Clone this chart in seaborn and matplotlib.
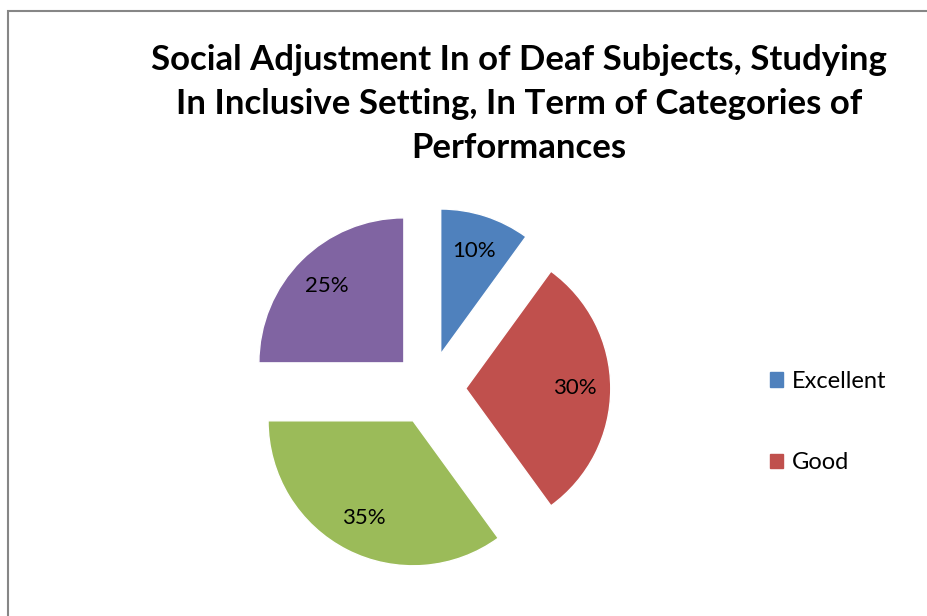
import matplotlib
matplotlib.use("Agg")
import matplotlib.pyplot as plt
import matplotlib.patches as mpatches
import seaborn as sns

categories = ["Excellent", "Good", "Average", "Poor"]
shares = [10, 30, 35, 25]
legend_shown = ["Excellent", "Good"]
colors = ["#4F81BD", "#C0504D", "#9BBB59", "#8064A2"]

sns.set_style("white")
plt.rcParams["font.family"] = ["Lato", "DejaVu Sans"]
plt.rcParams["text.color"] = "black"

fig = plt.figure(figsize=(9.28, 6.16), dpi=100)

# chart border (Excel-like frame, running past the right and bottom edges)
fig.patches.append(mpatches.Rectangle((8 / 928, -0.1), 1.2, (616 - 11) / 616 + 0.1,
                                      transform=fig.transFigure, fill=False,
                                      edgecolor="#868686", linewidth=1.5))

# pie axes: centre at (429.5, 388.5) px, radius 145 px
ax = fig.add_axes([229.5 / 928, (616 - 588.5) / 616, 400 / 928, 400 / 616])
lim = 200 / 145
ax.pie(shares, colors=colors, startangle=90, counterclock=False,
       explode=[0.25] * len(shares), autopct="%d%%", pctdistance=0.75,
       textprops={"fontsize": 16, "color": "black"})
ax.set_xlim(-lim, lim)
ax.set_ylim(-lim, lim)
ax.set_aspect("equal")
ax.axis("off")

fig.text(519 / 928, 1 - 104 / 616,
         "Social Adjustment In of Deaf Subjects, Studying\nIn Inclusive Setting, In Term of Categories of\nPerformances",
         ha="center", va="center", fontsize=25, fontweight="bold", linespacing=1.47,
         color="black")

handles = [mpatches.Patch(color=colors[categories.index(c)], label=c) for c in legend_shown]
fig.legend(handles=handles, loc="center left", bbox_to_anchor=(749 / 928, 1 - 422 / 616),
           frameon=False, fontsize=17, handlelength=0.55, handleheight=0.55,
           handletextpad=0.35, labelspacing=2.55, labelcolor="black")

fig.savefig("out.png", dpi=100)
